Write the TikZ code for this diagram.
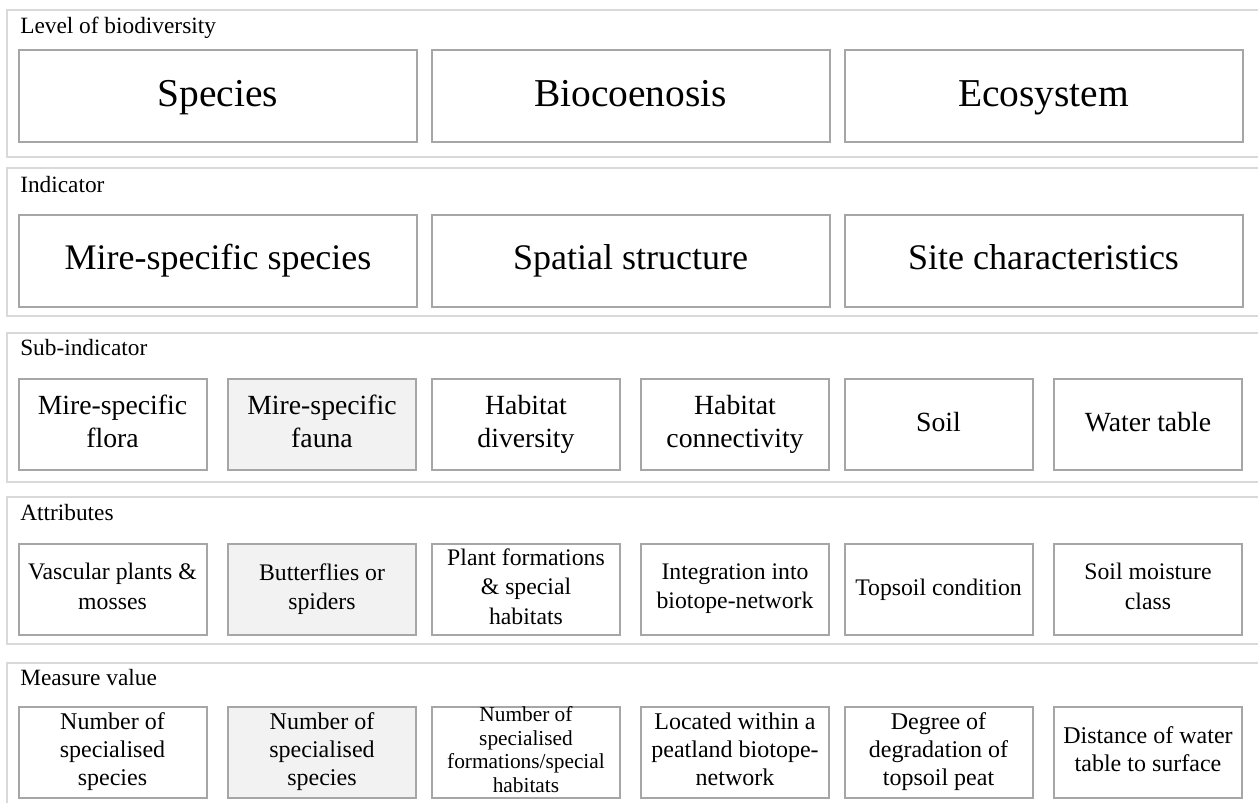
\documentclass[tikz,border=0pt]{standalone}
\usepackage{fontspec}
\setmainfont{Liberation Serif}
\usepackage{tikz}
\usetikzlibrary{positioning}
\definecolor{bandGray}{RGB}{217,217,217}
\definecolor{boxGray}{RGB}{166,166,166}
\definecolor{faunaFill}{RGB}{242,242,242}
\newcommand{\capstrut}{\rule[-0.22em]{0pt}{0.96em}}

\begin{document}
\begin{tikzpicture}[x=0.75pt, y=-0.75pt,
    band/.style={draw=bandGray, line width=1.5pt},
    bandlabel/.style={anchor=base west, inner sep=0pt, font=\fontsize{17.5}{21}\selectfont},
    boxbase/.style={draw=boxGray, fill=white, line width=1.5pt, align=center,
        execute at begin node=\capstrut, execute at end node=\capstrut},
    bigbox/.style={boxbase, minimum width=298.5pt, minimum height=69pt, inner sep=0pt},
    smallbox/.style={boxbase, minimum width=141pt, minimum height=68.25pt, inner sep=0pt},
    grayed/.style={fill=faunaFill}]
        \fill[white] (0,0) rectangle (1258,803);
        \clip (0,0) rectangle (1258,803);
        % bands
        \draw[band] (7,10) rectangle (1266,157);
        \draw[band] (7,168) rectangle (1266,316);
        \draw[band] (7,333) rectangle (1266,482);
        \draw[band] (7,497) rectangle (1266,644);
        \draw[band] (7,663) rectangle (1266,812);
        \node[bandlabel] (lvlLabel) at (20,33) {Level of biodiversity};
        \node[bandlabel] (indLabel) at (20,192) {Indicator};
        \node[bandlabel] (subLabel) at (20,355) {Sub-indicator};
        \node[bandlabel] (attLabel) at (20,520) {Attributes};
        \node[bandlabel] (meaLabel) at (20,685) {Measure value};
        % level of biodiversity
        \node[bigbox, font=\fontsize{29.6}{34}\selectfont] (species) at (218,96) {Species};
        \node[bigbox, font=\fontsize{29.6}{34}\selectfont] (bioc) at (630.5,96) {Biocoenosis};
        \node[bigbox, font=\fontsize{29.6}{34}\selectfont] (ecos) at (1043.5,96) {Ecosystem};
        % indicator
        \node[bigbox, font=\fontsize{27}{31}\selectfont] (mireSpecies) at (218,260.5) {Mire-specific species};
        \node[bigbox, font=\fontsize{27}{31}\selectfont] (spatial) at (630.5,260.5) {Spatial structure};
        \node[bigbox, font=\fontsize{27}{31}\selectfont] (site) at (1043.5,260.5) {Site characteristics};
        % sub-indicator
        \node[smallbox, font=\fontsize{20.8}{24.5}\selectfont] (flora) at (112.5,424.5) {Mire-specific\\flora};
        \node[smallbox, grayed, font=\fontsize{20.8}{24.5}\selectfont] (fauna) at (322,424.5) {Mire-specific\\fauna};
        \node[smallbox, font=\fontsize{20.8}{24.5}\selectfont] (habDiv) at (526,424.5) {Habitat\\diversity};
        \node[smallbox, font=\fontsize{20.8}{24.5}\selectfont] (habCon) at (735,424.5) {Habitat\\connectivity};
        \node[smallbox, font=\fontsize{20.8}{24.5}\selectfont] (soil) at (938.5,424.5) {Soil};
        \node[smallbox, font=\fontsize{20.8}{24.5}\selectfont] (water) at (1148,424.5) {Water table};
        % attributes
        \node[smallbox, font=\fontsize{17.8}{22}\selectfont] (vascular) at (112.5,589) {Vascular plants \&\\mosses};
        \node[smallbox, grayed, font=\fontsize{17.8}{22}\selectfont] (butter) at (322,589) {Butterflies or\\spiders};
        \node[smallbox, font=\fontsize{17.8}{22}\selectfont] (plantForm) at (526,589) {Plant formations\\\& special\\habitats};
        \node[smallbox, font=\fontsize{17.8}{22}\selectfont] (integr) at (735,589) {Integration into\\biotope-network};
        \node[smallbox, font=\fontsize{17.8}{22}\selectfont] (topsoil) at (938.5,589) {Topsoil condition};
        \node[smallbox, font=\fontsize{17.8}{22}\selectfont] (moisture) at (1148,589) {Soil moisture\\class};
        % measure value
        \node[smallbox, font=\fontsize{18}{21}\selectfont] (numFlora) at (112.5,752) {Number of\\specialised\\species};
        \node[smallbox, grayed, font=\fontsize{18}{21}\selectfont] (numFauna) at (322,752) {Number of\\specialised\\species};
        \node[smallbox, font=\fontsize{16}{17.6}\selectfont] (numForm) at (526,752) {Number of\\specialised\\formations/special\\habitats};
        \node[smallbox, font=\fontsize{18}{21}\selectfont] (located) at (735,752) {Located within a\\peatland biotope-\\network};
        \node[smallbox, font=\fontsize{18}{21}\selectfont] (degree) at (938.5,752) {Degree of\\degradation of\\topsoil peat};
        \node[smallbox, font=\fontsize{18}{21}\selectfont] (distance) at (1148,752) {Distance of water\\table to surface};
    \end{tikzpicture}
\end{document}
